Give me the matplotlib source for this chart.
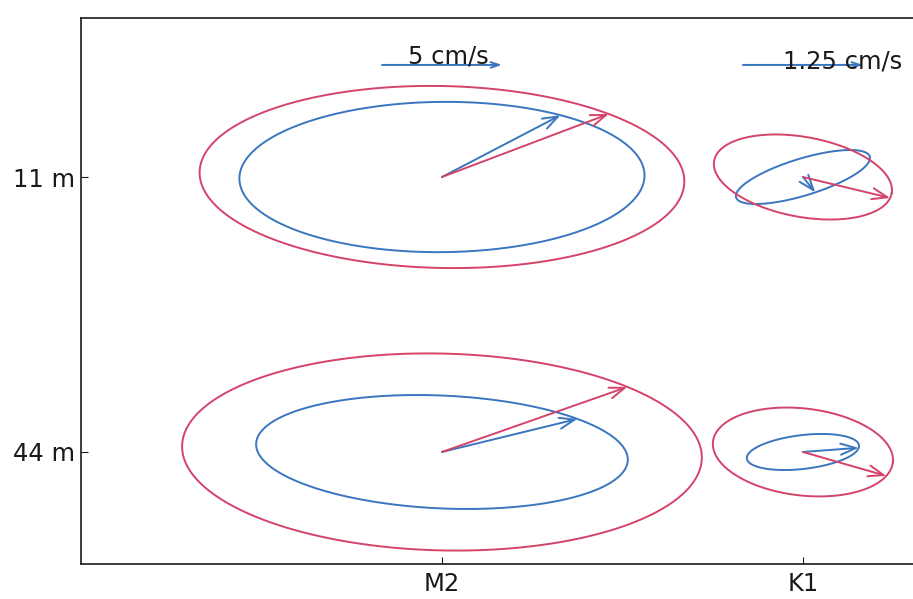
import numpy as np
import matplotlib
matplotlib.use("Agg")
import matplotlib.pyplot as plt

# Tidal current ellipses for two constituents at two depths
constituents = ["M2", "K1"]
depths = [11, 44]
depth_labels = ["11 m", "44 m"]

# Ellipse parameters, rows = depth (11 m, 44 m), columns = constituent (M2, K1)
# semi-major / semi-minor axes in cm/s, inclination and phase in degrees
blue_major = [[8.44, 0.728], [7.75, 0.588]]
blue_minor = [[3.13, 0.192], [2.35, 0.176]]
blue_incl = [[0.5, 17.0], [-2.6, 6.7]]
blue_phase = [[54.0, -84.0], [44.0, -8.0]]

red_major = [[10.10, 0.940], [10.83, 0.943]]
red_minor = [[3.79, 0.416], [4.10, 0.453]]
red_incl = [[-1.2, -10.4], [-1.4, -6.6]]
red_phase = [[47.0, -7.0], [45.0, -19.0]]

# Velocity scale bars (cm/s) and drawing magnification per constituent
scale_bar_values = [5.0, 1.25]
scale_bar_labels = ["5 cm/s", "1.25 cm/s"]
magnification = [1.0, 4.0]

BLUE = "#3a76c0"
RED = "#d4436a"
INK = "#1a1a1a"

# Layout: horizontal spacing of constituents and vertical placement of depths
STATION_X = [0.0, 15.04]
DEPTH_SCALE = 0.3472


def ellipse_xy(a, b, inc_deg, t):
    inc = np.deg2rad(inc_deg)
    x = a * np.cos(t)
    y = b * np.sin(t)
    return (x * np.cos(inc) - y * np.sin(inc),
            x * np.sin(inc) + y * np.cos(inc))


plt.rcParams["font.family"] = ["DejaVu Sans"]
fig = plt.figure(figsize=(9.13, 5.99), dpi=100)
ax = fig.add_axes([81 / 913, 35 / 599, 834 / 913, 546 / 599])

t = np.linspace(0, 2 * np.pi, 400)
for i, depth in enumerate(depths):
    yc = -depth * DEPTH_SCALE
    for j, name in enumerate(constituents):
        xc = STATION_X[j]
        m = magnification[j]
        for major, minor, incl, phase, col in (
            (blue_major, blue_minor, blue_incl, blue_phase, BLUE),
            (red_major, red_minor, red_incl, red_phase, RED),
        ):
            a = major[i][j] * m
            b = minor[i][j] * m
            ex, ey = ellipse_xy(a, b, incl[i][j], t)
            ax.fill(xc + ex, yc + ey, facecolor="none", edgecolor=col,
                    lw=1.4, joinstyle="round")
            px, py = ellipse_xy(a, b, incl[i][j], np.deg2rad(phase[i][j]))
            ax.annotate("", xy=(xc + px, yc + py), xytext=(xc, yc),
                        arrowprops=dict(arrowstyle="->,head_length=0.55,head_width=0.2",
                                        color=col, lw=1.4, shrinkA=0, shrinkB=0,
                                        mutation_scale=20))

# Scale bars above the top row
bar_y = -depths[0] * DEPTH_SCALE + 4.67
text_dx = [-1.42, -0.83]
text_dy = [0.08, -0.13]
for j, (val, lab) in enumerate(zip(scale_bar_values, scale_bar_labels)):
    L = val * magnification[j]
    xc = STATION_X[j]
    ax.annotate("", xy=(xc + L / 2, bar_y), xytext=(xc - L / 2, bar_y),
                arrowprops=dict(arrowstyle="->,head_length=0.3,head_width=0.1",
                                color=BLUE, lw=1.4, shrinkA=0, shrinkB=0,
                                mutation_scale=20))
    ax.text(xc + text_dx[j], bar_y + text_dy[j], lab, ha="left", va="baseline",
            fontsize=17.5, color=INK)

ax.set_xlim(-15.04, 19.71)
ax.set_ylim(-3.819 - 16.125, -3.819 + 6.625)

ax.set_xticks(STATION_X)
ax.set_xticklabels(constituents)
ax.set_yticks([-d * DEPTH_SCALE for d in depths])
ax.set_yticklabels(depth_labels)
ax.tick_params(direction="in", length=5, width=0.8, labelsize=17.5,
               labelcolor=INK, color=INK)
ax.tick_params(axis="x", pad=6)
ax.tick_params(axis="y", pad=4)
for s in ax.spines.values():
    s.set_linewidth(1.2)
    s.set_color(INK)

fig.savefig("out.png", dpi=100)
